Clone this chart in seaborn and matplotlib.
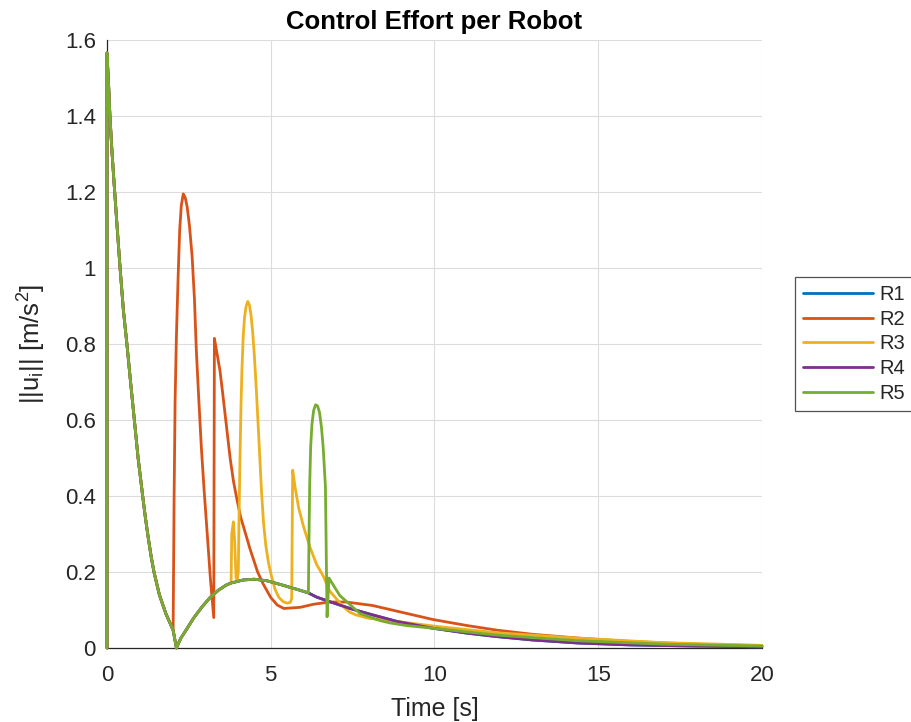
import numpy as np
import pandas as pd
import matplotlib
matplotlib.use("Agg")
import matplotlib.pyplot as plt
import seaborn as sns

# ---- data: control effort ||u_i|| [m/s^2] vs time [s] ----
robots = ["R1", "R2", "R3", "R4", "R5"]
colors = ["#0072BD", "#D95319", "#EDB120", "#7E2F8E", "#77AC30"]

# shared trajectory (all robots start identically)
t_base = [0.0, 0.0, 0.05, 0.09, 0.15, 0.21, 0.30, 0.40, 0.50, 0.62, 0.72, 0.83,
          0.95, 1.09, 1.17, 1.26, 1.35, 1.435, 1.6, 1.8, 2.02, 2.12, 2.25, 2.4,
          2.64, 2.9, 3.15, 3.4, 3.65, 3.79, 4.16, 4.5, 4.88, 5.38, 5.89, 6.15]
u_base = [0.0, 1.566, 1.48, 1.40, 1.31, 1.232, 1.12, 1.0, 0.89, 0.79, 0.70,
          0.605, 0.50, 0.40, 0.345, 0.29, 0.24, 0.20, 0.14, 0.09, 0.047, 0.0,
          0.025, 0.045, 0.078, 0.108, 0.133, 0.152, 0.166, 0.171, 0.179, 0.181,
          0.177, 0.165, 0.152, 0.145]

# R1 / R4: no further spikes
t_r4 = [6.4, 6.8, 7.42, 8.03, 8.85, 9.95, 11.0, 11.9, 13.0, 14.4, 16.0, 18.0, 20.0]
u_r4 = [0.134, 0.122, 0.104, 0.089, 0.070, 0.052, 0.039, 0.030, 0.021, 0.013,
        0.008, 0.005, 0.003]

# R2: branches off at t = 2.02
t_r2 = [2.02, 2.05, 2.08, 2.12, 2.17, 2.22, 2.27, 2.33, 2.39, 2.45, 2.52, 2.6,
        2.67, 2.73, 2.8, 2.88, 2.97, 3.07, 3.16, 3.26, 3.28, 3.37, 3.45, 3.52,
        3.60, 3.68, 3.76, 3.86, 3.97, 4.08, 4.2, 4.37, 4.6, 4.76, 5.0, 5.2, 5.4,
        5.9, 6.3, 6.8, 7.3, 8.1, 8.85, 9.25, 9.95, 11.0, 11.9, 13.0, 14.4, 16.0,
        18.0, 20.0]
u_r2 = [0.047, 0.40, 0.65, 0.82, 0.97, 1.10, 1.165, 1.195, 1.185, 1.16, 1.11,
        1.03, 0.92, 0.78, 0.66, 0.53, 0.41, 0.29, 0.18, 0.08, 0.815, 0.77, 0.73,
        0.68, 0.62, 0.56, 0.50, 0.44, 0.39, 0.345, 0.31, 0.26, 0.20, 0.17, 0.133,
        0.113, 0.104, 0.107, 0.115, 0.121, 0.121, 0.112, 0.097, 0.089, 0.075,
        0.059, 0.047, 0.036, 0.026, 0.017, 0.010, 0.006]

# R3: branches off at t = 3.79
t_r3 = [3.79, 3.81, 3.86, 3.9, 3.94, 3.98, 4.01, 4.03, 4.06, 4.09, 4.12, 4.16,
        4.2, 4.25, 4.3, 4.35, 4.4, 4.45, 4.5, 4.56, 4.62, 4.67, 4.72, 4.78, 4.85,
        4.93, 5.02, 5.13, 5.25, 5.38, 5.5, 5.6, 5.64, 5.67, 5.75, 5.85, 6.0, 6.2,
        6.4, 6.6, 6.8, 7.0, 7.2, 7.4, 7.6, 8.0, 8.85, 9.95, 11.9, 14.4, 17.0,
        20.0]
u_r3 = [0.171, 0.30, 0.332, 0.28, 0.184, 0.18, 0.20, 0.33, 0.495, 0.63, 0.73,
        0.82, 0.87, 0.90, 0.912, 0.902, 0.875, 0.83, 0.77, 0.68, 0.58, 0.495,
        0.41, 0.33, 0.27, 0.225, 0.19, 0.155, 0.133, 0.122, 0.118, 0.12, 0.13,
        0.468, 0.42, 0.37, 0.32, 0.265, 0.22, 0.19, 0.15, 0.13, 0.11, 0.095,
        0.087, 0.078, 0.070, 0.058, 0.040, 0.026, 0.014, 0.007]

# R5: branches off at t = 6.15
t_r5 = [6.17, 6.19, 6.22, 6.26, 6.31, 6.37, 6.43, 6.49, 6.55, 6.6, 6.64, 6.67,
        6.72, 6.78, 6.95, 7.11, 7.32, 7.72, 8.34, 8.64, 9.15, 9.95, 11.9, 14.4,
        17.0, 20.0]
u_r5 = [0.30, 0.43, 0.53, 0.59, 0.625, 0.64, 0.637, 0.62, 0.58, 0.53, 0.47,
        0.425, 0.082, 0.184, 0.16, 0.138, 0.122, 0.091, 0.072, 0.066, 0.059,
        0.052, 0.034, 0.019, 0.010, 0.005]


def branch(t0, t_tail, u_tail):
    tb = np.asarray(t_base)
    keep = tb <= t0
    return (np.concatenate([tb[keep], t_tail]),
            np.concatenate([np.asarray(u_base)[keep], u_tail]))


series = {
    "R1": branch(6.15, t_r4, u_r4),
    "R2": branch(2.0, t_r2, u_r2),
    "R3": branch(3.65, t_r3, u_r3),
    "R4": branch(6.15, t_r4, u_r4),
    "R5": branch(6.15, t_r5, u_r5),
}
df = pd.concat(
    [pd.DataFrame({"t": t, "u": u, "robot": name}) for name, (t, u) in series.items()],
    ignore_index=True,
)

# ---- style ----
sns.set_theme(style="white")
plt.rcParams["font.family"] = ["Liberation Sans", "DejaVu Sans"]
plt.rcParams["mathtext.fontset"] = "custom"
plt.rcParams["mathtext.rm"] = "Liberation Sans"
plt.rcParams["mathtext.it"] = "Liberation Sans:italic"
dark = "#262626"

fig = plt.figure(figsize=(9.12, 7.22), dpi=100)
ax = fig.add_axes([0.1173, 0.1025, 0.7182, 0.8421])

sns.lineplot(data=df, x="t", y="u", hue="robot", hue_order=robots,
             palette=dict(zip(robots, colors)), sort=False, estimator=None,
             linewidth=2.0, ax=ax)
for ln in ax.get_lines():
    ln.set_zorder(3)
    ln.set_clip_on(False)

ax.set_xlim(0, 20)
ax.set_ylim(0, 1.6)
ax.set_xticks([0, 5, 10, 15, 20])
ax.set_yticks(np.arange(0, 1.61, 0.2))
ax.set_yticklabels(["0", "0.2", "0.4", "0.6", "0.8", "1", "1.2", "1.4", "1.6"])
ax.grid(True, color="#dcdcdc", linewidth=0.8)
ax.set_axisbelow(True)
for side in ("top", "right"):
    ax.spines[side].set_visible(False)
for side in ("left", "bottom"):
    ax.spines[side].set_color(dark)
    ax.spines[side].set_linewidth(0.9)
ax.tick_params(direction="in", length=5, width=0.9, color=dark,
               labelcolor=dark, labelsize=16)
ax.tick_params(axis="x", pad=12)
ax.tick_params(axis="y", pad=8)

ax.set_title("Control Effort per Robot", fontsize=18.5, fontweight="bold",
             color="black", pad=8)
ax.set_xlabel("Time [s]", fontsize=18, color=dark, labelpad=8)
ax.set_ylabel(r"||u$_\mathrm{i}$|| [m/s$^2$]", fontsize=18.5, color=dark,
              labelpad=12)

sns.move_legend(ax, "center left", bbox_to_anchor=(1.05, 0.5), title=None,
                frameon=True, fancybox=False, fontsize=14.5, handlelength=3.5,
                handletextpad=0.3, labelspacing=0.28, borderaxespad=0,
                edgecolor=dark)
leg = ax.get_legend()
leg.get_frame().set_linewidth(0.9)
for h in leg.get_lines():
    h.set_linewidth(2.0)

fig.savefig("out.png", dpi=100)
